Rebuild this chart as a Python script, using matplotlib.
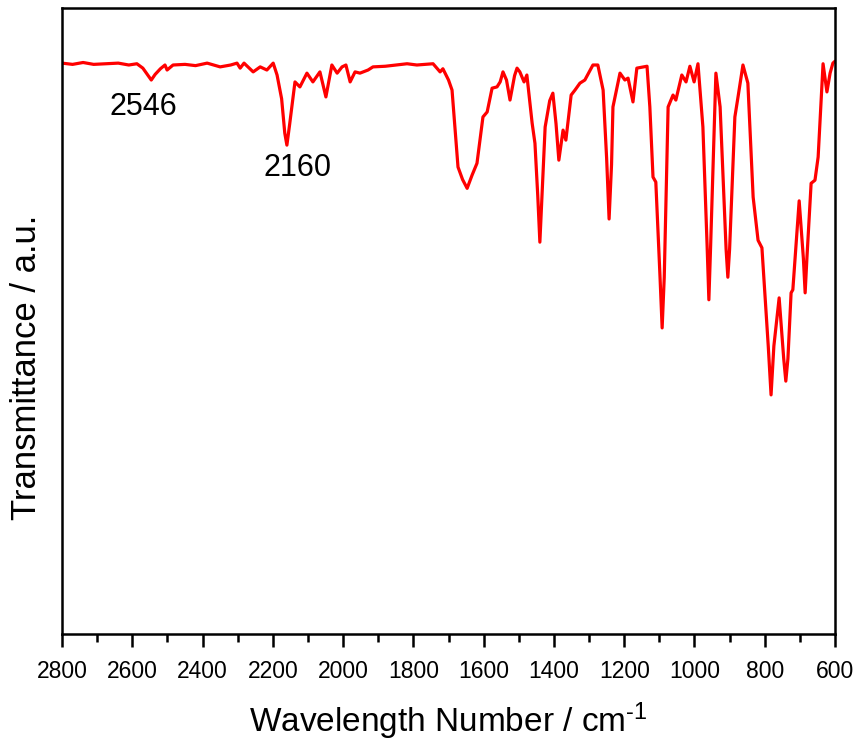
import numpy as np
import matplotlib
matplotlib.use("Agg")
import matplotlib.pyplot as plt

# ── FTIR spectrum, 2800-600 cm-1 (transmittance, arbitrary units) ──
wavenumber = np.array([
    2800, 2770, 2740, 2710, 2672, 2640, 2610, 2587, 2570, 2556, 2546, 2535,
    2520, 2507, 2501, 2484, 2450, 2420, 2387, 2350, 2320, 2302, 2293, 2282,
    2256, 2236, 2217, 2199, 2188, 2175, 2166, 2160, 2152, 2137, 2123, 2103,
    2086, 2066, 2049, 2032, 2017, 2003, 1992, 1980, 1966, 1952, 1929, 1915,
    1880, 1850, 1818, 1790, 1744, 1724, 1716, 1700, 1690, 1673, 1660, 1647,
    1633, 1619, 1602, 1590, 1576, 1562, 1553, 1545, 1535, 1525, 1512, 1505,
    1497, 1485, 1477, 1462, 1454, 1446, 1440, 1434, 1425, 1412, 1403, 1394,
    1386, 1374, 1366, 1351, 1340, 1326, 1312, 1289, 1275, 1260, 1250, 1243,
    1236, 1232, 1212, 1198, 1189, 1175, 1164, 1135, 1127, 1118, 1110, 1098,
    1092, 1086, 1075, 1061, 1053, 1036, 1024, 1013, 1001, 990, 976, 964,
    959, 954, 939, 927, 910, 905, 900, 885, 876, 862, 848, 833,
    819, 808, 790, 782, 774, 759, 746, 740, 734, 725, 720, 702,
    690, 685, 680, 668, 657, 648, 634, 623, 614, 606, 600,
])
transmittance = np.array([
    91.2, 91.0, 91.3, 91.0, 91.1, 91.2, 90.9, 91.1, 90.4, 89.3, 88.5, 89.4,
    90.3, 90.9, 90.1, 90.9, 91.0, 90.8, 91.2, 90.6, 90.9, 91.2, 90.4, 91.2,
    89.8, 90.6, 90.1, 91.2, 89.3, 85.5, 80.0, 78.1, 81.5, 88.2, 87.4, 89.6,
    88.2, 89.8, 85.8, 90.9, 89.6, 90.6, 90.9, 88.2, 89.8, 89.6, 90.1, 90.6,
    90.7, 90.9, 91.1, 90.9, 91.1, 89.8, 90.3, 88.5, 86.9, 74.6, 72.6, 71.2,
    73.3, 75.2, 82.6, 83.4, 87.2, 87.4, 88.2, 89.8, 88.5, 85.3, 89.2, 90.4,
    89.8, 88.2, 89.3, 81.6, 78.4, 70.0, 62.6, 70.0, 81.0, 85.2, 86.4, 81.5,
    75.7, 80.5, 78.9, 86.1, 86.9, 88.0, 88.5, 90.9, 90.9, 86.9, 76.0, 66.3,
    75.0, 84.2, 89.6, 88.5, 88.8, 85.0, 90.4, 90.7, 84.2, 73.0, 72.2, 57.0,
    48.9, 57.0, 84.2, 86.1, 85.3, 89.3, 88.2, 90.7, 88.2, 91.1, 81.0, 62.0,
    53.4, 62.0, 89.6, 84.2, 61.5, 57.0, 61.5, 82.6, 85.8, 90.9, 88.0, 69.8,
    62.9, 61.7, 46.0, 38.2, 46.0, 53.7, 44.0, 40.4, 44.0, 54.5, 55.0, 69.2,
    60.0, 54.5, 60.0, 72.0, 72.5, 76.2, 91.1, 86.6, 89.6, 91.2, 91.5,
])

# labelled bands: text and where it sits
peak_labels = ["2546", "2160"]
label_x = [2568, 2130]
label_y = [82.9, 73.2]

plt.rcParams["font.family"] = ["Liberation Sans", "DejaVu Sans"]
plt.rcParams["mathtext.fontset"] = "custom"
plt.rcParams["mathtext.rm"] = "Liberation Sans"
plt.rcParams["mathtext.it"] = "Liberation Sans:italic"

fig = plt.figure(figsize=(8.58, 7.44), dpi=100)
ax = fig.add_axes([0.0723, 0.1478, 0.9009, 0.8414])

ax.plot(wavenumber, transmittance, color="#ff0000", linewidth=2.3,
        solid_joinstyle="round", solid_capstyle="round")

for txt, tx, ty in zip(peak_labels, label_x, label_y):
    ax.text(tx, ty, txt, fontsize=22, ha="center", va="baseline")

ax.set_xlim(2800, 600)
ax.set_ylim(0, 100)
ax.set_xticks(np.arange(2800, 599, -200))
ax.set_xticks(np.arange(2700, 600, -200), minor=True)
ax.set_yticks([])

for s in ax.spines.values():
    s.set_linewidth(1.8)
ax.tick_params(axis="x", which="major", direction="out", length=9.5,
               width=1.8, labelsize=16.5, pad=9)
ax.tick_params(axis="x", which="minor", direction="out", length=6, width=1.8)

ax.set_xlabel(r"Wavelength Number / cm$^{\text{-}1}$", fontsize=24,
              labelpad=13)
ax.set_ylabel("Transmittance / a.u.", fontsize=25)
ax.yaxis.set_label_coords(-0.024, 0.4265)

fig.savefig("out.png", dpi=100)
